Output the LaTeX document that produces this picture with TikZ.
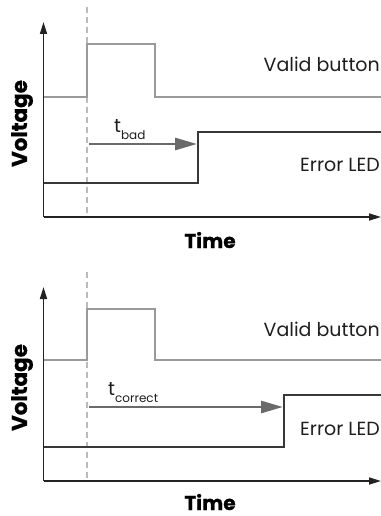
\documentclass[tikz,border=0pt]{standalone}
\usepackage{fontspec}
\setmainfont{Poppins}
\usetikzlibrary{arrows.meta}
\definecolor{axiscol}{HTML}{222222}
\definecolor{validcol}{HTML}{9A9A9A}
\definecolor{errcol}{HTML}{383838}
\definecolor{arrcol}{HTML}{6A6A6A}
\definecolor{guidecol}{HTML}{BBBBBB}
\definecolor{textcol}{HTML}{1E1E1E}
\tikzset{
  axis/.style={line width=1.6pt, draw=axiscol, -{Triangle[length=12pt,width=7pt]}},
  validline/.style={line width=2.9pt, draw=validcol},
  errline/.style={line width=2.7pt, draw=errcol},
  guide/.style={line width=2.7pt, draw=guidecol, dash pattern=on 6pt off 4pt},
  tarrow/.style={line width=2.8pt, draw=arrcol, -{Triangle[length=22pt,width=12pt]}},
  siglabel/.style={anchor=base east, inner sep=0pt, font=\fontsize{19}{19}\selectfont, text=textcol},
  axlabel/.style={anchor=base, inner sep=0pt, font=\fontsize{21.5}{21.5}\selectfont\bfseries\addfontfeature{FakeBold=0.8}, text=black},
  timelabel/.style={anchor=base, inner sep=0pt, font=\fontsize{20}{20}\selectfont\bfseries\addfontfeature{FakeBold=0.8}, text=black},
  tlabel/.style={anchor=base west, inner sep=0pt, font=\fontsize{19}{19}\selectfont, text=textcol}
}
\newcommand{\tsub}[1]{t\raisebox{-7pt}{\fontsize{12}{12}\selectfont #1}}
\begin{document}
\begin{tikzpicture}[x=1pt,y=-1pt]
\useasboundingbox (0,0) rectangle (380,516);
% ---------- top panel ----------
\coordinate (o1) at (43.5,217);
\coordinate (y1) at (43.5,22);
\coordinate (x1) at (381,217);
\draw[guide] (87,7) -- (87,217);
\draw[axis] (o1) -- (y1);
\draw[axis] (o1) -- (x1);
\draw[validline] (43.5,97) -- (87,97) -- (87,44) -- (155,44) -- (155,97) -- (382,97);
\draw[errline] (43.5,183) -- (198,183) -- (198,132) -- (382,132);
\coordinate (a1s) at (89,144);
\coordinate (a1e) at (197,144);
\draw[tarrow] (a1s) -- (a1e);
\node[tlabel] (tbad) at (114,132) {\tsub{bad}};
\node[siglabel] (valid1) at (380,72) {Valid button};
\node[siglabel] (err1) at (380,171) {Error LED};
\node[axlabel, rotate=90] (volt1) at (27,123.5) {Voltage};
\node[timelabel] (time1) at (210,248) {Time};
% ---------- bottom panel ----------
\coordinate (o2) at (43.5,481);
\coordinate (y2) at (43.5,287);
\coordinate (x2) at (381,481);
\draw[guide] (87,272) -- (87,481);
\draw[axis] (o2) -- (y2);
\draw[axis] (o2) -- (x2);
\draw[validline] (43.5,360) -- (87,360) -- (87,309) -- (155,309) -- (155,360) -- (382,360);
\draw[errline] (43.5,447) -- (284,447) -- (284,395) -- (382,395);
\coordinate (a2s) at (89,407);
\coordinate (a2e) at (283,407);
\draw[tarrow] (a2s) -- (a2e);
\node[tlabel] (tcorr) at (108,395) {\tsub{correct}};
\node[siglabel] (valid2) at (380,336) {Valid button};
\node[siglabel] (err2) at (380,435) {Error LED};
\node[axlabel, rotate=90] (volt2) at (27,387.5) {Voltage};
\node[timelabel] (time2) at (210,510) {Time};
\end{tikzpicture}
\end{document}
